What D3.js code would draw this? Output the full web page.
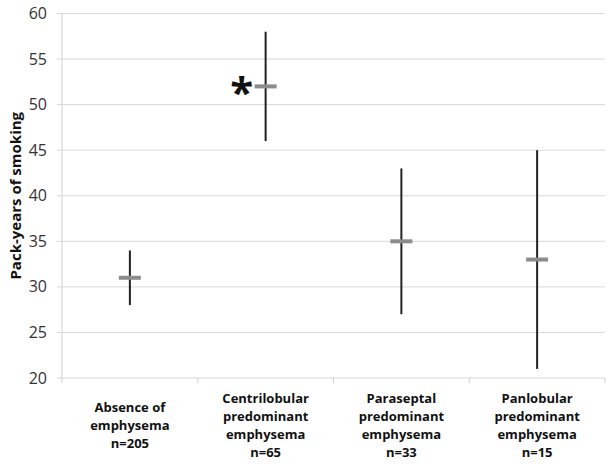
<!DOCTYPE html>
<html><head><meta charset="utf-8">
<script src="https://cdn.jsdelivr.net/npm/d3@7"></script>
<style>body{margin:0;background:#fff}</style>
</head><body>
<svg id="c" width="612" height="468"></svg>
<script>
const categories = [
  ["Absence of","emphysema","n=205"],
  ["Centrilobular","predominant","emphysema","n=65"],
  ["Paraseptal","predominant","emphysema","n=33"],
  ["Panlobular","predominant","emphysema","n=15"]
];
const means = [31, 52, 35, 33];
const lows  = [28, 46, 27, 21];
const highs = [34, 58, 43, 45];
const yTicks = [20,25,30,35,40,45,50,55,60];
const starIndex = 1;

(function(){
const svg = d3.select("#c");
const font = "'Open Sans', 'DejaVu Sans', sans-serif";
const pLeft = 62, pRight = 605, pTop = 13.5, pBottom = 378;
const x = d3.scaleBand().domain(d3.range(categories.length)).range([pLeft, pRight]);
const y = d3.scaleLinear().domain([20, 60]).range([pBottom, pTop]);

svg.append("g").selectAll("line").data(yTicks).join("line")
  .attr("x1", pLeft - 5).attr("x2", pRight)
  .attr("y1", d => y(d)).attr("y2", d => y(d))
  .attr("stroke", "#d9d9d9").attr("stroke-width", 1);
svg.append("line").attr("x1", pLeft).attr("x2", pLeft).attr("y1", pTop).attr("y2", pBottom)
  .attr("stroke", "#d0d0d0").attr("stroke-width", 1);
svg.append("g").selectAll("line").data(d3.range(categories.length + 1)).join("line")
  .attr("x1", i => pLeft + i * x.step()).attr("x2", i => pLeft + i * x.step())
  .attr("y1", pBottom).attr("y2", pBottom + 5)
  .attr("stroke", "#d0d0d0");
svg.append("g").selectAll("text").data(yTicks).join("text")
  .attr("x", 47).attr("y", d => y(d)).attr("dy", "0.35em")
  .attr("text-anchor", "end").attr("font-family", font).attr("font-size", 16)
  .attr("fill", "#333").text(d => d);
svg.append("text").attr("transform", `translate(16,${(pTop+pBottom)/2}) rotate(-90)`)
  .attr("text-anchor", "middle").attr("dy", "0.35em")
  .attr("font-family", font).attr("font-weight", "bold").attr("font-size", 15)
  .attr("fill", "#111").text("Pack-years of smoking");
const cg = svg.append("g").selectAll("text").data(categories).join("text")
  .attr("text-anchor", "middle").attr("font-family", font).attr("font-weight", "bold")
  .attr("font-size", 13).attr("fill", "#111");
cg.each(function(lines, i) {
  const cx = x(i) + x.bandwidth() / 2;
  const lh = 18;
  const startY = 425 - (lines.length - 1) * lh / 2;
  d3.select(this).selectAll("tspan").data(lines).join("tspan")
    .attr("x", cx).attr("y", (d, j) => startY + j * lh).attr("dy", "0.35em").text(d => d);
});
const idx = d3.range(means.length);
svg.append("g").selectAll("line").data(idx).join("line")
  .attr("x1", i => x(i) + x.bandwidth()/2).attr("x2", i => x(i) + x.bandwidth()/2)
  .attr("y1", i => y(highs[i])).attr("y2", i => y(lows[i]))
  .attr("stroke", "#222").attr("stroke-width", 2);
svg.append("g").selectAll("rect").data(idx).join("rect")
  .attr("x", i => x(i) + x.bandwidth()/2 - 11).attr("width", 22)
  .attr("y", i => y(means[i]) - 2).attr("height", 4)
  .attr("fill", "#8c8c8c");
svg.append("text").attr("x", x(starIndex) + x.bandwidth()/2 - 24).attr("y", y(means[starIndex]))
  .attr("dy", "0.5em").attr("text-anchor", "middle")
  .attr("font-family", font).attr("font-weight", "bold").attr("font-size", 42)
  .attr("fill", "#111").text("*");
})();
</script>
</body></html>
